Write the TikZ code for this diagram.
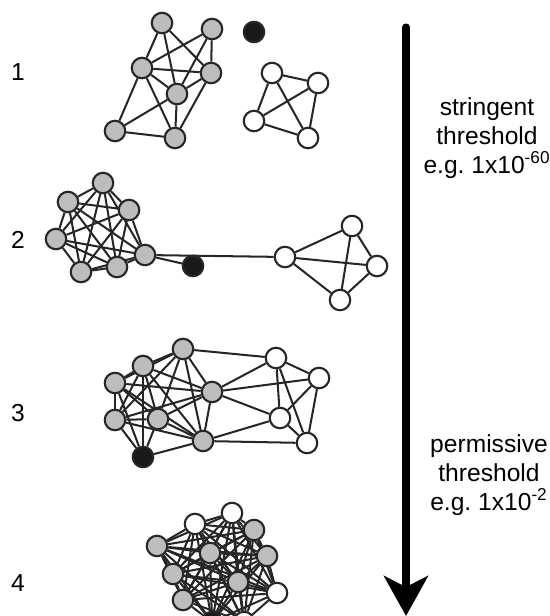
\documentclass[tikz,border=0pt]{standalone}
\usepackage{fontspec}
\setmainfont{Liberation Sans}
\usetikzlibrary{arrows.meta}

\pgfdeclarelayer{edges}
\pgfsetlayers{edges,main}

\begin{document}
\begin{tikzpicture}[x=0.02cm, y=-0.02cm,
    vert/.style={circle, draw=black!85, line width=1.2pt, minimum size=0.41cm, inner sep=0pt},
    gv/.style={vert, fill=black!26},
    wv/.style={vert, fill=white},
    bv/.style={vert, fill=black!90},
    link/.style={draw=black!85, line width=1.15pt},
    num/.style={font=\fontsize{14}{16}\selectfont},
    note/.style={align=center, font=\fontsize{14}{16.3}\selectfont}]

  \useasboundingbox (0,0) rectangle (550,616);
  \clip (0,0) rectangle (550,616);

  % step numbers
  \node[num] (lab1) at (18,72) {1};
  \node[num] (lab2) at (18,240) {2};
  \node[num] (lab3) at (18,413) {3};
  \node[num] (lab4) at (18,583) {4};

  % threshold arrow
  \coordinate (top) at (406,27);
  \coordinate (tip) at (406,616);
  \draw[line width=4pt, line cap=round,
        -{Stealth[length=0.8cm, width=0.88cm, inset=0.22cm]}] (top) -- (tip);
  \node[note] (strict) at (487,138) {stringent\\threshold\\e.g.\ 1x10\textsuperscript{-60}};
  \node[note] (loose) at (489,475) {permissive\\threshold\\e.g.\ 1x10\textsuperscript{-2}};

  % step 1: two separate groups and a singleton
  \node[gv] (g1) at (162,23) {};
  \node[gv] (g2) at (212,29) {};
  \node[gv] (g3) at (142,68) {};
  \node[gv] (g4) at (211,73) {};
  \node[gv] (g5) at (177,94) {};
  \node[gv] (g6) at (115,131) {};
  \node[gv] (g7) at (175,138) {};
  \node[bv] (s1) at (254,32) {};
  \node[wv] (w1) at (272,73) {};
  \node[wv] (w2) at (318,83) {};
  \node[wv] (w3) at (254,121) {};
  \node[wv] (w4) at (308,138) {};

  % step 2
  \node[gv] (a1) at (103,183) {};
  \node[gv] (a2) at (68,202) {};
  \node[gv] (a3) at (129,210) {};
  \node[gv] (a4) at (56,239) {};
  \node[gv] (a5) at (145,255) {};
  \node[gv] (a6) at (81,272) {};
  \node[gv] (a7) at (117,267) {};
  \node[bv] (s2) at (193,266) {};
  \node[wv] (b1) at (285,257) {};
  \node[wv] (b2) at (352,226) {};
  \node[wv] (b3) at (377,266) {};
  \node[wv] (b4) at (340,300) {};

  % step 3
  \node[gv] (c1) at (183,349) {};
  \node[gv] (c2) at (143,366) {};
  \node[gv] (c3) at (115,383) {};
  \node[gv] (c4) at (212,392) {};
  \node[gv] (c5) at (115,420) {};
  \node[gv] (c6) at (158,419) {};
  \node[gv] (c7) at (203,441) {};
  \node[bv] (s3) at (143,457) {};
  \node[wv] (d1) at (276,358) {};
  \node[wv] (d2) at (319,378) {};
  \node[wv] (d3) at (280,418) {};
  \node[wv] (d4) at (307,443) {};

  % step 4: everything merged
  \node[wv] (e1) at (195,524) {};
  \node[wv] (e2) at (232,513) {};
  \node[gv] (e3) at (254,530) {};
  \node[gv] (e4) at (157,546) {};
  \node[gv] (e5) at (210,553) {};
  \node[gv] (e6) at (267,556) {};
  \node[gv] (e7) at (173,574) {};
  \node[gv] (e8) at (238,582) {};
  \node[wv] (e9) at (277,593) {};
  \node[gv] (e10) at (183,600) {};
  \node[bv] (e11) at (212,622) {};
  \node[wv] (e12) at (244,622) {};

  \begin{pgfonlayer}{edges}
    \foreach \a/\b in {g1/g3, g1/g4, g1/g5, g2/g3, g2/g4, g2/g5,
                       g3/g4, g3/g5, g3/g6, g3/g7, g4/g5, g4/g7,
                       g5/g6, g5/g7, g6/g7,
                       w1/w2, w1/w3, w1/w4, w2/w3, w2/w4, w3/w4}
      \draw[link] (\a) -- (\b);

    \foreach \i in {1,...,6}{
      \pgfmathtruncatemacro\k{\i+1}
      \foreach \j in {\k,...,7}
        \draw[link] (a\i) -- (a\j);
    }
    \foreach \a/\b in {a5/s2, a5/b1, b1/b2, b1/b3, b1/b4, b2/b3, b2/b4, b3/b4}
      \draw[link] (\a) -- (\b);

    \foreach \i in {1,...,6}{
      \pgfmathtruncatemacro\k{\i+1}
      \foreach \j in {\k,...,7}
        \draw[link] (c\i) -- (c\j);
    }
    \foreach \a/\b in {s3/c2, s3/c3, s3/c5, s3/c6, s3/c7,
                       c1/d1, c4/d1, c4/d2, c4/d3, c7/d3, c7/d4,
                       d1/d2, d1/d3, d1/d4, d2/d3, d2/d4, d3/d4}
      \draw[link] (\a) -- (\b);

    \foreach \i in {1,...,11}{
      \pgfmathtruncatemacro\k{\i+1}
      \foreach \j in {\k,...,12}
        \draw[link] (e\i) -- (e\j);
    }
  \end{pgfonlayer}
\end{tikzpicture}
\end{document}
